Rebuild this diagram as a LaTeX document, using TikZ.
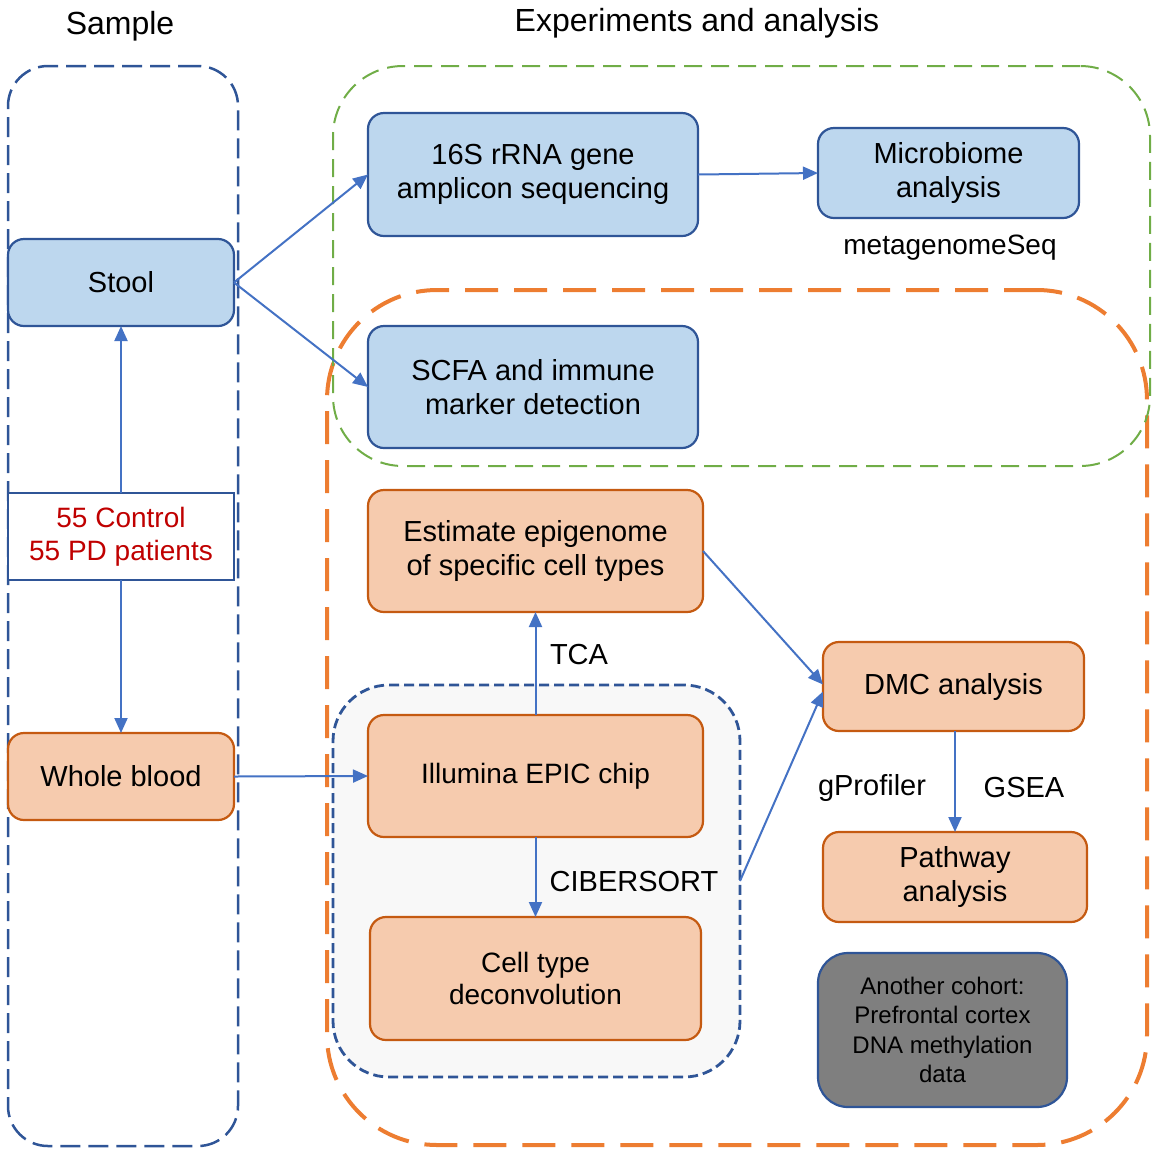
\documentclass[tikz,border=0pt]{standalone}
\usepackage{fontspec}
\setmainfont{Liberation Sans}
\usetikzlibrary{arrows.meta}
\definecolor{bfill}{HTML}{BDD7EE}
\definecolor{bdraw}{HTML}{2F5597}
\definecolor{ofill}{HTML}{F6CBAE}
\definecolor{odraw}{HTML}{C55A11}
\definecolor{arrowc}{HTML}{4472C4}
\definecolor{greenc}{HTML}{70AD47}
\definecolor{orangec}{HTML}{ED7D31}
\definecolor{grayc}{HTML}{7F7F7F}
\definecolor{innerfill}{HTML}{F8F8F8}
\definecolor{redc}{HTML}{C00000}
\tikzset{
  box/.style={rounded corners=8pt, line width=1.1pt, align=center, inner sep=0pt, outer sep=0pt, font=\fontsize{14.5}{17}\selectfont},
  bluebox/.style={box, draw=bdraw, fill=bfill},
  orbox/.style={box, draw=odraw, fill=ofill},
  graybox/.style={box, rounded corners=15pt, draw=bdraw, fill=grayc, font=\fontsize{12}{14.65}\selectfont},
  ctrlbox/.style={draw=bdraw, fill=white, line width=0.8pt, align=center, inner sep=0pt, outer sep=0pt, text=redc, font=\fontsize{14}{16.5}\selectfont},
  lbl/.style={font=\fontsize{14.5}{17}\selectfont, inner sep=0pt},
  ttl/.style={font=\fontsize{16}{19}\selectfont, inner sep=0pt},
  grp/.style={inner sep=0pt, outer sep=0pt},
  arr/.style={draw=arrowc, line width=1pt, -{Triangle[length=7.5pt,width=6.5pt]}}
}
\begin{document}
\begin{tikzpicture}[x=0.5pt,y=-0.5pt]
\useasboundingbox (0,0) rectangle (1152,1148);
% titles
\node[ttl] (tsample) at (120,26) {Sample};
\node[ttl] (texp) at (697,23) {Experiments and analysis};
% group boxes
\node[grp, draw=bdraw, line width=1.25pt, dash pattern=on 10pt off 4pt, rounded corners=20pt, minimum width=115pt, minimum height=540pt] (gsample) at (123,606) {};
\node[grp, draw=orangec, line width=2pt, dash pattern=on 16.5pt off 8pt, rounded corners=55pt, minimum width=410pt, minimum height=427.5pt] (gorange) at (737,717.5) {};
\node[grp, draw=greenc, line width=1pt, dash pattern=on 9pt off 4.5pt, rounded corners=35pt, minimum width=408.5pt, minimum height=200pt] (ggreen) at (741.5,266) {};
\node[grp, draw=bdraw, fill=innerfill, line width=1.4pt, dash pattern=on 5pt off 2.5pt, rounded corners=28pt, minimum width=203.5pt, minimum height=196pt] (ginner) at (536.5,881) {};
% left column
\node[bluebox, minimum width=113pt, minimum height=43.5pt] (stool) at (121,282.5) {Stool};
\node[ctrlbox, minimum width=113pt, minimum height=43.5pt] (ctrl) at (121,536.5) {55 Control\\55 PD patients};
\node[orbox, minimum width=113pt, minimum height=43.5pt] (blood) at (121,776.5) {Whole blood};
% blue nodes
\node[bluebox, minimum width=165pt, minimum height=61.5pt] (s16) at (533,174.5) {16S rRNA gene\\amplicon sequencing};
\node[bluebox, minimum width=130.5pt, minimum height=45pt] (micro) at (948.5,173) {Microbiome\\analysis};
\node[lbl, font=\fontsize{14}{17}\selectfont] (mseq) at (950,248) {metagenomeSeq};
\node[bluebox, minimum width=165pt, minimum height=61pt] (scfa) at (533,387) {SCFA and immune\\marker detection};
% orange nodes
\node[orbox, minimum width=167.5pt, minimum height=61pt] (est) at (535.5,551) {Estimate epigenome\\of specific cell types};
\node[orbox, minimum width=167.5pt, minimum height=61pt, font=\fontsize{14}{17}\selectfont] (illu) at (535.5,776) {Illumina EPIC chip};
\node[orbox, minimum width=165.5pt, minimum height=61.5pt, font=\fontsize{14}{16}\selectfont] (cell) at (535.5,978.5) {Cell type\\deconvolution};
\node[orbox, minimum width=130.5pt, minimum height=44.5pt] (dmc) at (953.5,686.5) {DMC analysis};
\node[orbox, minimum width=132pt, minimum height=45pt] (path) at (955,877) {Pathway\\analysis};
\node[graybox, minimum width=124.5pt, minimum height=77pt] (other) at (942.5,1030) {Another cohort:\\Prefrontal cortex\\DNA methylation\\data};
% labels
\node[lbl] (ltca) at (579,655) {TCA};
\node[lbl] (lcib) at (634,882) {CIBERSORT};
\node[lbl] (lgp) at (872,788) {gProfiler};
\node[lbl] (lgsea) at (1024,788) {GSEA};
% arrows
\draw[arr] (ctrl.north) -- (stool.south);
\draw[arr] (ctrl.south) -- (blood.north);
\draw[arr] (stool.east) -- (s16.west);
\draw[arr] (stool.east) -- (scfa.west);
\draw[arr] (s16.east) -- (micro.west);
\draw[arr] (blood.east) -- (illu.west);
\draw[arr] (illu.north) -- (est.south);
\draw[arr] (illu.south) -- (cell.north);
\draw[arr] (est.east) -- ([yshift=1pt]dmc.west);
\draw[arr] (ginner.east) -- ([yshift=-2.5pt]dmc.west);
\draw[arr] (dmc.south -| path.north) -- (path.north);
\end{tikzpicture}
\end{document}
